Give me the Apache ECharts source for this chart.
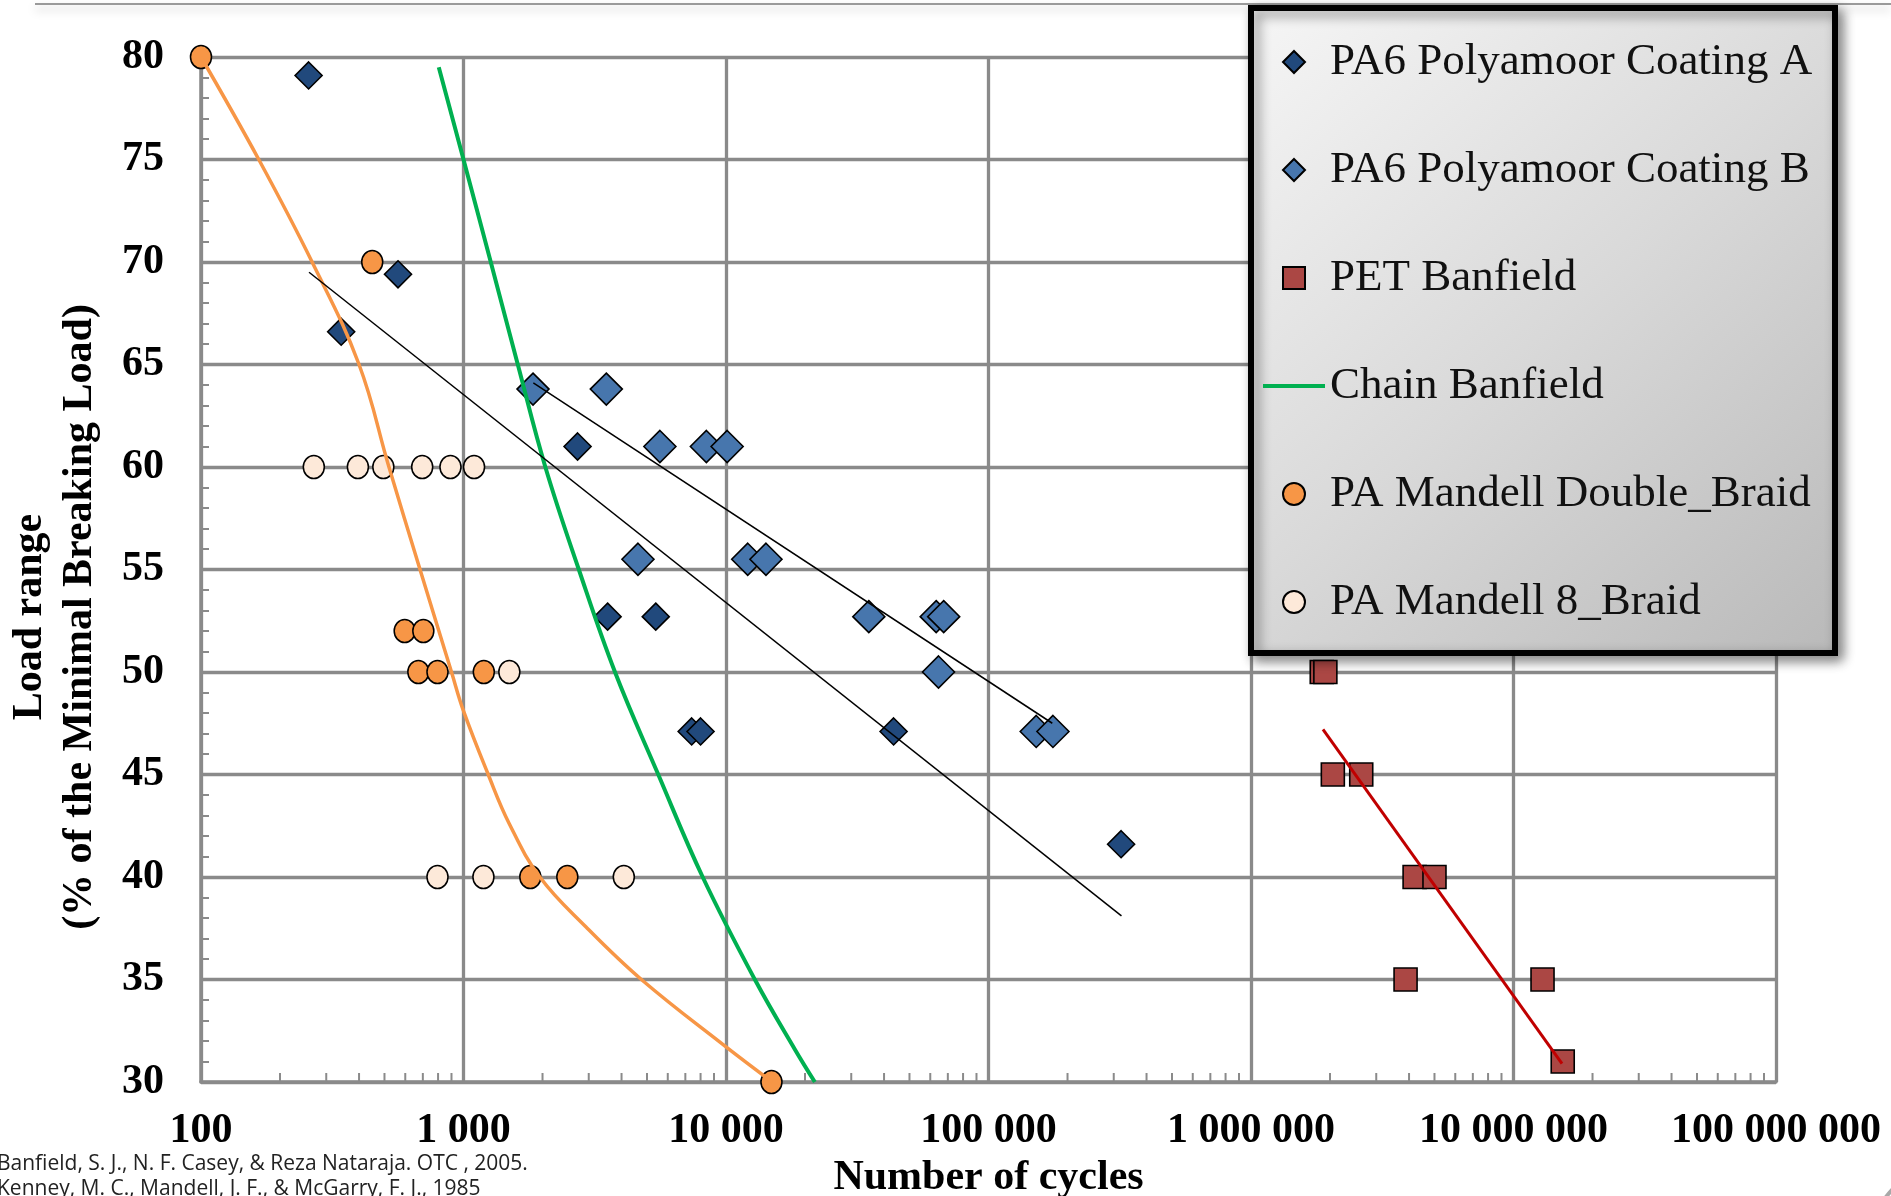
<!DOCTYPE html>
<html>
<head>
<meta charset="utf-8">
<script src="https://cdn.jsdelivr.net/npm/echarts@6/dist/echarts.min.js"></script>
<style>
  html, body { margin: 0; padding: 0; background: #fff; }
  #chart { width: 1891px; height: 1196px; }
</style>
</head>
<body>
<div id="chart"></div>
<script>
// 数据 (x = number of cycles, y = load range %)
const coatingA = [[257, 79.1], [342, 66.6], [563, 69.4], [2720, 61.0], [3540, 52.7], [5400, 52.7],
  [7400, 47.1], [8000, 47.1], [43500, 47.1], [320000, 41.6]]
const coatingB = [[1840, 63.8], [3500, 63.8], [5600, 61.0], [8420, 61.0], [10100, 61.0],
  [4620, 55.5], [12100, 55.5], [14200, 55.5], [35000, 52.7], [63200, 52.7], [67500, 52.7],
  [64500, 50.0], [152000, 47.1], [176000, 47.1]]
const petBanfield = [[1.86e6, 50], [1.92e6, 50], [2.05e6, 45], [2.63e6, 45], [4.2e6, 40], [5.0e6, 40],
  [3.88e6, 35], [1.29e7, 35], [1.54e7, 31]]
const doubleBraid = [[100, 80], [449, 70], [597, 52], [703, 52], [673, 50], [796, 50], [1195, 50],
  [1797, 40], [2486, 40], [14900, 30]]
const eightBraid = [[269, 60], [396, 60], [495, 60], [696, 60], [892, 60], [1097, 60], [1495, 50],
  [796, 40], [1191, 40], [4080, 40]]
const chainBanfield = [[805, 79.5], [1000, 75], [1270, 70], [1610, 65], [2050, 60], [2750, 55],
  [3776, 50], [5520, 45], [8150, 40], [12880, 35], [18280, 31.6], [21800, 30]]
const doubleBraidFit = [[100, 80], [166, 75], [265, 70], [400, 65], [520, 60], [683, 55], [900, 50],
  [1000, 48.1], [1242, 45], [1494, 42.6], [1953, 40], [2930, 37.56], [4760, 35], [9890, 31.76], [15000, 30]]
const trendA = [[258, 69.5], [321000, 38.1]]
const trendB = [[1845, 64.1], [175000, 47.5]]
const trendPET = [[1.88e6, 47.2], [1.53e7, 30.9]]

const xTickLabels = ['100', '1 000', '10 000', '100 000', '1 000 000', '10 000 000', '100 000 000']
const legendNames = ['PA6 Polyamoor Coating A', 'PA6 Polyamoor Coating B', 'PET Banfield',
  'Chain Banfield', 'PA Mandell Double_Braid', 'PA Mandell 8_Braid']

// log minor ticks 2..9 per decade
const minorTicks = []
for (let d = 2; d < 8; d++) {
  for (let k = 2; k <= 9; k++) minorTicks.push([k * Math.pow(10, d), 30])
}

const serif = '"Liberation Serif", "DejaVu Serif", serif'
const gridGray = '#8a8a8a'
const diamondIcon = 'path://M5,0 L10,5 L5,10 L0,5 Z'
const squareIcon = 'path://M0,0 L10,0 L10,10 L0,10 Z'
const circleIcon = 'path://M5,0 A5,5 0 1,1 4.99,0 Z'
const lineIcon = 'path://M0,0 L62,0 L62,4 L0,4 Z'

const chart = echarts.init(document.getElementById('chart'))

function scatter(name, data, symbol, size, color) {
  return {
    name: name,
    type: 'scatter',
    data: data,
    symbol: symbol,
    symbolSize: size,
    clip: false,
    color: color,
    itemStyle: { color: color, borderColor: '#000', borderWidth: 1.6, opacity: 1 },
    emphasis: { disabled: true },
    z: 2
  }
}

function line(name, data, color, width, smooth) {
  return {
    name: name,
    type: 'line',
    data: data,
    color: color,
    showSymbol: false,
    symbol: 'none',
    smooth: smooth,
    lineStyle: { color: color, width: width },
    emphasis: { disabled: true },
    z: 3
  }
}

const option = {
  animation: false,
  backgroundColor: '#fff',
  grid: { left: 201, right: 115, top: 57, bottom: 114, outerBoundsMode: 'none', containLabel: false },
  xAxis: {
    type: 'log',
    logBase: 10,
    min: 100,
    max: 1e8,
    splitNumber: 6,
    name: 'Number of cycles',
    nameLocation: 'middle',
    nameGap: 65,
    nameTextStyle: { fontFamily: serif, fontWeight: 'bold', fontSize: 42, color: '#000' },
    axisLine: { show: true, lineStyle: { color: gridGray, width: 3.5 } },
    axisTick: { show: false },
    splitLine: { show: true, lineStyle: { color: gridGray, width: 3.3 } },
    axisLabel: {
      fontFamily: serif, fontWeight: 'bold', fontSize: 42, color: '#000', margin: 28,
      showMinLabel: true, showMaxLabel: true,
      formatter: v => xTickLabels[Math.round(Math.log10(v)) - 2]
    }
  },
  yAxis: {
    type: 'value',
    min: 30,
    max: 80,
    interval: 5,
    axisLine: { show: true, lineStyle: { color: gridGray, width: 3.5 } },
    axisTick: { show: true, inside: true, length: 8, lineStyle: { color: gridGray, width: 2 } },
    minorTick: { show: true, splitNumber: 5, length: 8, lineStyle: { color: gridGray, width: 2 } },
    splitLine: { show: true, lineStyle: { color: gridGray, width: 3.3 } },
    axisLabel: { fontFamily: serif, fontWeight: 'bold', fontSize: 42, color: '#000', margin: 37 }
  },
  legend: {
    orient: 'vertical',
    left: 1263,
    top: 38,
    padding: 0,
    itemWidth: 62,
    itemHeight: 22,
    itemGap: 60,
    symbolKeepAspect: true,
    z: 110,
    textStyle: { fontFamily: serif, fontSize: 45, color: '#111', lineHeight: 48 },
    data: [
      { name: legendNames[0], icon: diamondIcon },
      { name: legendNames[1], icon: diamondIcon },
      { name: legendNames[2], icon: squareIcon },
      { name: legendNames[3], icon: lineIcon, itemStyle: { color: '#00b050', borderWidth: 0 } },
      { name: legendNames[4], icon: circleIcon },
      { name: legendNames[5], icon: circleIcon }
    ]
  },
  graphic: [
    {
      type: 'rect', z: 50, silent: true,
      shape: { x: 35, y: 3, width: 1856, height: 2 },
      style: { fill: '#9a9a9a', shadowBlur: 10, shadowColor: 'rgba(0,0,0,0.25)', shadowOffsetY: 5 }
    },
    {
      type: 'rect', z: 100, silent: true,
      shape: { x: 1251, y: 8, width: 584, height: 645 },
      style: {
        fill: {
          type: 'linear', x: 0, y: 0, x2: 1, y2: 1,
          colorStops: [
            { offset: 0, color: '#f6f6f6' },
            { offset: 0.5, color: '#d9d9d9' },
            { offset: 1, color: '#b9b9b9' }
          ]
        },
        stroke: '#000', lineWidth: 6,
        shadowBlur: 12, shadowColor: 'rgba(0,0,0,0.45)', shadowOffsetX: 5, shadowOffsetY: 5
      }
    },
    {
      type: 'text', z: 100, silent: true,
      x: 55, y: 617, rotation: Math.PI / 2,
      style: {
        text: 'Load range\n(% of the Minimal Breaking Load)',
        fontFamily: serif, fontWeight: 'bold', fontSize: 42, lineHeight: 50,
        fill: '#000', align: 'center', verticalAlign: 'middle'
      }
    },
    {
      type: 'text', z: 100, silent: true,
      x: -3, y: 1164,
      style: {
        text: 'Banfield, S. J., N. F. Casey, & Reza Nataraja. OTC , 2005.',
        fontFamily: '"Open Sans", sans-serif', fontSize: 21,
        fill: '#222', align: 'left', verticalAlign: 'middle'
      }
    },
    {
      type: 'text', z: 100, silent: true,
      x: -3, y: 1189,
      style: {
        text: 'Kenney, M. C., Mandell, J. F., & McGarry, F. J., 1985',
        fontFamily: '"Open Sans", sans-serif', fontSize: 21,
        fill: '#222', align: 'left', verticalAlign: 'middle'
      }
    },
    {
      type: 'arc', z: 100, silent: true,
      shape: { cx: 1975, cy: 1265, r: 112, startAngle: Math.PI * 1.05, endAngle: Math.PI * 1.35 },
      style: { stroke: '#a8a8a8', lineWidth: 4, fill: null }
    }
  ],
  series: [
    {
      name: 'minorTicks',
      type: 'custom',
      data: minorTicks,
      clip: false,
      silent: true,
      z: 4,
      renderItem: (params, api) => {
        const p = api.coord([api.value(0), api.value(1)])
        return {
          type: 'line',
          shape: { x1: p[0], y1: p[1], x2: p[0], y2: p[1] - 9 },
          style: { stroke: gridGray, lineWidth: 2 }
        }
      }
    },
    scatter(legendNames[0], coatingA, 'diamond', 27, '#21497c'),
    scatter(legendNames[1], coatingB, 'diamond', 32, '#4776ad'),
    scatter(legendNames[2], petBanfield, 'rect', 23, '#ab4744'),
    scatter(legendNames[4], doubleBraid, 'circle', [21, 23], '#f79646'),
    scatter(legendNames[5], eightBraid, 'circle', [21, 23], '#fde9d9'),
    line(legendNames[3], chainBanfield, '#00b050', 4, 0.4),
    line('Double_Braid fit', doubleBraidFit, '#f79646', 3.5, 0.4),
    line('Coating A fit', trendA, '#000', 1.5, false),
    line('Coating B fit', trendB, '#000', 1.5, false),
    line('PET fit', trendPET, '#c00000', 3, false)
  ]
}

chart.setOption(option)
</script>
</body>
</html>
